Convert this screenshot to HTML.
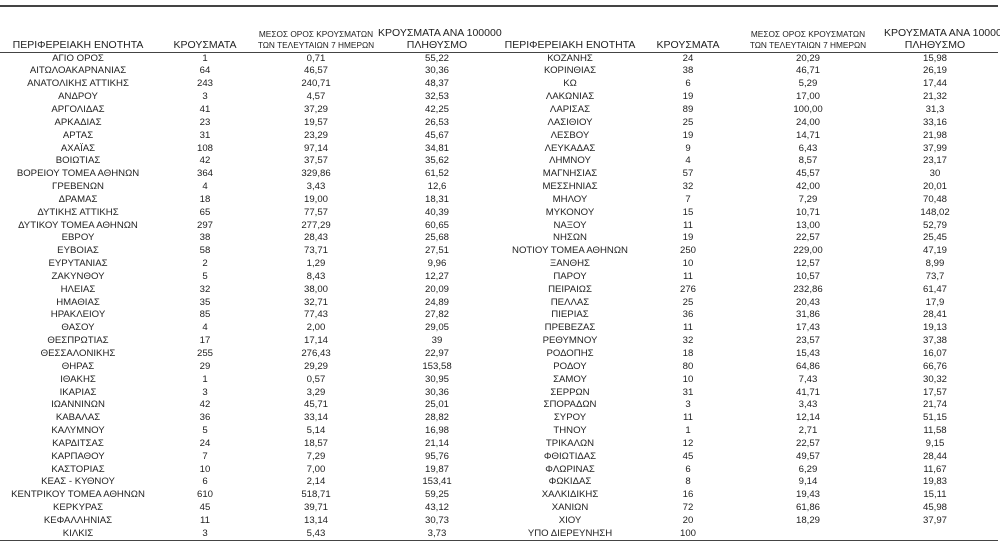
<!DOCTYPE html>
<html><head><meta charset="utf-8"><style>
body{margin:0;width:1000px;height:544px;background:#fff;overflow:hidden;position:relative;font-family:"Liberation Sans","DejaVu Sans",sans-serif;color:#222}
.ln{position:absolute;left:0;width:998px;background:#444}
table{position:absolute;left:0;top:52.6px;border-collapse:collapse;table-layout:fixed;font-size:9.6px}
td{padding:0;height:12.84px;line-height:12.84px;text-align:center;white-space:nowrap;overflow:visible}
.h{position:absolute;text-align:center;white-space:nowrap;font-size:10.5px;line-height:12px}
.s{font-size:8.3px;line-height:11px}
</style></head><body>
<div class="ln" style="top:5px;height:1.5px"></div>
<div class="ln" style="top:52px;height:1px"></div>
<div class="ln" style="top:539.5px;height:1.2px"></div>
<div class="h" style="left:0;width:156px;top:39px">ΠΕΡΙΦΕΡΕΙΑΚΗ ΕΝΟΤΗΤΑ</div>
<div class="h" style="left:156px;width:98px;top:39px">ΚΡΟΥΣΜΑΤΑ</div>
<div class="h s" style="left:254px;width:124px;top:29px">ΜΕΣΟΣ ΟΡΟΣ ΚΡΟΥΣΜΑΤΩΝ<br>ΤΩΝ ΤΕΛΕΥΤΑΙΩΝ 7 ΗΜΕΡΩΝ</div>
<div class="h" style="left:378px;width:118px;top:27px">ΚΡΟΥΣΜΑΤΑ ΑΝΑ 100000<br>ΠΛΗΘΥΣΜΟ</div>
<div class="h" style="left:496px;width:148px;top:39px">ΠΕΡΙΦΕΡΕΙΑΚΗ ΕΝΟΤΗΤΑ</div>
<div class="h" style="left:644px;width:88px;top:39px">ΚΡΟΥΣΜΑΤΑ</div>
<div class="h s" style="left:732px;width:152px;top:29px">ΜΕΣΟΣ ΟΡΟΣ ΚΡΟΥΣΜΑΤΩΝ<br>ΤΩΝ ΤΕΛΕΥΤΑΙΩΝ 7 ΗΜΕΡΩΝ</div>
<div class="h" style="left:884px;width:102px;top:27px">ΚΡΟΥΣΜΑΤΑ ΑΝΑ 100000<br>ΠΛΗΘΥΣΜΟ</div>
<table>
<colgroup><col style="width:156px"><col style="width:98px"><col style="width:124px"><col style="width:118px"><col style="width:148px"><col style="width:88px"><col style="width:152px"><col style="width:102px"></colgroup>
<tr><td>ΑΓΙΟ ΟΡΟΣ</td><td>1</td><td>0,71</td><td>55,22</td><td>ΚΟΖΑΝΗΣ</td><td>24</td><td>20,29</td><td>15,98</td></tr>
<tr><td>ΑΙΤΩΛΟΑΚΑΡΝΑΝΙΑΣ</td><td>64</td><td>46,57</td><td>30,36</td><td>ΚΟΡΙΝΘΙΑΣ</td><td>38</td><td>46,71</td><td>26,19</td></tr>
<tr><td>ΑΝΑΤΟΛΙΚΗΣ ΑΤΤΙΚΗΣ</td><td>243</td><td>240,71</td><td>48,37</td><td>ΚΩ</td><td>6</td><td>5,29</td><td>17,44</td></tr>
<tr><td>ΑΝΔΡΟΥ</td><td>3</td><td>4,57</td><td>32,53</td><td>ΛΑΚΩΝΙΑΣ</td><td>19</td><td>17,00</td><td>21,32</td></tr>
<tr><td>ΑΡΓΟΛΙΔΑΣ</td><td>41</td><td>37,29</td><td>42,25</td><td>ΛΑΡΙΣΑΣ</td><td>89</td><td>100,00</td><td>31,3</td></tr>
<tr><td>ΑΡΚΑΔΙΑΣ</td><td>23</td><td>19,57</td><td>26,53</td><td>ΛΑΣΙΘΙΟΥ</td><td>25</td><td>24,00</td><td>33,16</td></tr>
<tr><td>ΑΡΤΑΣ</td><td>31</td><td>23,29</td><td>45,67</td><td>ΛΕΣΒΟΥ</td><td>19</td><td>14,71</td><td>21,98</td></tr>
<tr><td>ΑΧΑΪΑΣ</td><td>108</td><td>97,14</td><td>34,81</td><td>ΛΕΥΚΑΔΑΣ</td><td>9</td><td>6,43</td><td>37,99</td></tr>
<tr><td>ΒΟΙΩΤΙΑΣ</td><td>42</td><td>37,57</td><td>35,62</td><td>ΛΗΜΝΟΥ</td><td>4</td><td>8,57</td><td>23,17</td></tr>
<tr><td>ΒΟΡΕΙΟΥ ΤΟΜΕΑ ΑΘΗΝΩΝ</td><td>364</td><td>329,86</td><td>61,52</td><td>ΜΑΓΝΗΣΙΑΣ</td><td>57</td><td>45,57</td><td>30</td></tr>
<tr><td>ΓΡΕΒΕΝΩΝ</td><td>4</td><td>3,43</td><td>12,6</td><td>ΜΕΣΣΗΝΙΑΣ</td><td>32</td><td>42,00</td><td>20,01</td></tr>
<tr><td>ΔΡΑΜΑΣ</td><td>18</td><td>19,00</td><td>18,31</td><td>ΜΗΛΟΥ</td><td>7</td><td>7,29</td><td>70,48</td></tr>
<tr><td>ΔΥΤΙΚΗΣ ΑΤΤΙΚΗΣ</td><td>65</td><td>77,57</td><td>40,39</td><td>ΜΥΚΟΝΟΥ</td><td>15</td><td>10,71</td><td>148,02</td></tr>
<tr><td>ΔΥΤΙΚΟΥ ΤΟΜΕΑ ΑΘΗΝΩΝ</td><td>297</td><td>277,29</td><td>60,65</td><td>ΝΑΞΟΥ</td><td>11</td><td>13,00</td><td>52,79</td></tr>
<tr><td>ΕΒΡΟΥ</td><td>38</td><td>28,43</td><td>25,68</td><td>ΝΗΣΩΝ</td><td>19</td><td>22,57</td><td>25,45</td></tr>
<tr><td>ΕΥΒΟΙΑΣ</td><td>58</td><td>73,71</td><td>27,51</td><td>ΝΟΤΙΟΥ ΤΟΜΕΑ ΑΘΗΝΩΝ</td><td>250</td><td>229,00</td><td>47,19</td></tr>
<tr><td>ΕΥΡΥΤΑΝΙΑΣ</td><td>2</td><td>1,29</td><td>9,96</td><td>ΞΑΝΘΗΣ</td><td>10</td><td>12,57</td><td>8,99</td></tr>
<tr><td>ΖΑΚΥΝΘΟΥ</td><td>5</td><td>8,43</td><td>12,27</td><td>ΠΑΡΟΥ</td><td>11</td><td>10,57</td><td>73,7</td></tr>
<tr><td>ΗΛΕΙΑΣ</td><td>32</td><td>38,00</td><td>20,09</td><td>ΠΕΙΡΑΙΩΣ</td><td>276</td><td>232,86</td><td>61,47</td></tr>
<tr><td>ΗΜΑΘΙΑΣ</td><td>35</td><td>32,71</td><td>24,89</td><td>ΠΕΛΛΑΣ</td><td>25</td><td>20,43</td><td>17,9</td></tr>
<tr><td>ΗΡΑΚΛΕΙΟΥ</td><td>85</td><td>77,43</td><td>27,82</td><td>ΠΙΕΡΙΑΣ</td><td>36</td><td>31,86</td><td>28,41</td></tr>
<tr><td>ΘΑΣΟΥ</td><td>4</td><td>2,00</td><td>29,05</td><td>ΠΡΕΒΕΖΑΣ</td><td>11</td><td>17,43</td><td>19,13</td></tr>
<tr><td>ΘΕΣΠΡΩΤΙΑΣ</td><td>17</td><td>17,14</td><td>39</td><td>ΡΕΘΥΜΝΟΥ</td><td>32</td><td>23,57</td><td>37,38</td></tr>
<tr><td>ΘΕΣΣΑΛΟΝΙΚΗΣ</td><td>255</td><td>276,43</td><td>22,97</td><td>ΡΟΔΟΠΗΣ</td><td>18</td><td>15,43</td><td>16,07</td></tr>
<tr><td>ΘΗΡΑΣ</td><td>29</td><td>29,29</td><td>153,58</td><td>ΡΟΔΟΥ</td><td>80</td><td>64,86</td><td>66,76</td></tr>
<tr><td>ΙΘΑΚΗΣ</td><td>1</td><td>0,57</td><td>30,95</td><td>ΣΑΜΟΥ</td><td>10</td><td>7,43</td><td>30,32</td></tr>
<tr><td>ΙΚΑΡΙΑΣ</td><td>3</td><td>3,29</td><td>30,36</td><td>ΣΕΡΡΩΝ</td><td>31</td><td>41,71</td><td>17,57</td></tr>
<tr><td>ΙΩΑΝΝΙΝΩΝ</td><td>42</td><td>45,71</td><td>25,01</td><td>ΣΠΟΡΑΔΩΝ</td><td>3</td><td>3,43</td><td>21,74</td></tr>
<tr><td>ΚΑΒΑΛΑΣ</td><td>36</td><td>33,14</td><td>28,82</td><td>ΣΥΡΟΥ</td><td>11</td><td>12,14</td><td>51,15</td></tr>
<tr><td>ΚΑΛΥΜΝΟΥ</td><td>5</td><td>5,14</td><td>16,98</td><td>ΤΗΝΟΥ</td><td>1</td><td>2,71</td><td>11,58</td></tr>
<tr><td>ΚΑΡΔΙΤΣΑΣ</td><td>24</td><td>18,57</td><td>21,14</td><td>ΤΡΙΚΑΛΩΝ</td><td>12</td><td>22,57</td><td>9,15</td></tr>
<tr><td>ΚΑΡΠΑΘΟΥ</td><td>7</td><td>7,29</td><td>95,76</td><td>ΦΘΙΩΤΙΔΑΣ</td><td>45</td><td>49,57</td><td>28,44</td></tr>
<tr><td>ΚΑΣΤΟΡΙΑΣ</td><td>10</td><td>7,00</td><td>19,87</td><td>ΦΛΩΡΙΝΑΣ</td><td>6</td><td>6,29</td><td>11,67</td></tr>
<tr><td>ΚΕΑΣ - ΚΥΘΝΟΥ</td><td>6</td><td>2,14</td><td>153,41</td><td>ΦΩΚΙΔΑΣ</td><td>8</td><td>9,14</td><td>19,83</td></tr>
<tr><td>ΚΕΝΤΡΙΚΟΥ ΤΟΜΕΑ ΑΘΗΝΩΝ</td><td>610</td><td>518,71</td><td>59,25</td><td>ΧΑΛΚΙΔΙΚΗΣ</td><td>16</td><td>19,43</td><td>15,11</td></tr>
<tr><td>ΚΕΡΚΥΡΑΣ</td><td>45</td><td>39,71</td><td>43,12</td><td>ΧΑΝΙΩΝ</td><td>72</td><td>61,86</td><td>45,98</td></tr>
<tr><td>ΚΕΦΑΛΛΗΝΙΑΣ</td><td>11</td><td>13,14</td><td>30,73</td><td>ΧΙΟΥ</td><td>20</td><td>18,29</td><td>37,97</td></tr>
<tr><td>ΚΙΛΚΙΣ</td><td>3</td><td>5,43</td><td>3,73</td><td>ΥΠΟ ΔΙΕΡΕΥΝΗΣΗ</td><td>100</td><td></td><td></td></tr>
</table>
</body></html>
